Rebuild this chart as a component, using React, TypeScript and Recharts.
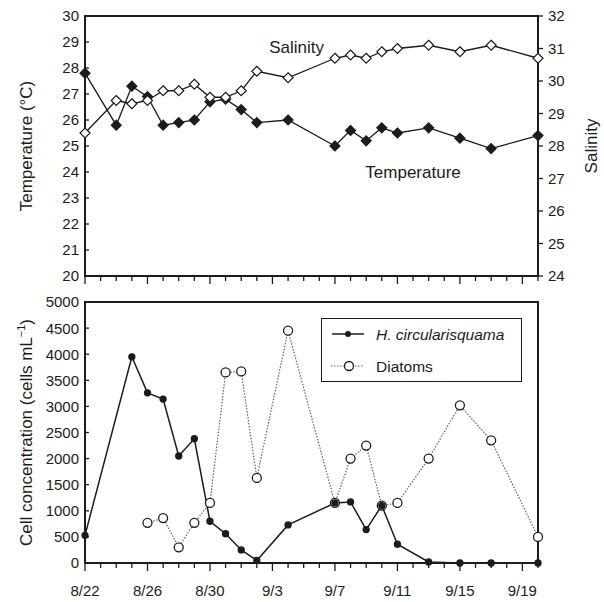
import React from 'react';
import { ComposedChart, Line, XAxis, YAxis, ReferenceDot, ReferenceArea, Legend } from 'recharts';

// ---- data (day 0 = 8/22) ----
const sampleDays = [0, 2, 3, 4, 5, 6, 7, 8, 9, 10, 11, 13, 16, 17, 18, 19, 20, 22, 24, 26, 29];
const temperature = [27.8, 25.8, 27.3, 26.9, 25.8, 25.9, 26.0, 26.7, 26.8, 26.4, 25.9, 26.0, 25.0, 25.6, 25.2, 25.7, 25.5, 25.7, 25.3, 24.9, 25.4];
const salinity = [28.4, 29.4, 29.3, 29.4, 29.7, 29.7, 29.9, 29.5, 29.5, 29.7, 30.3, 30.1, 30.7, 30.8, 30.7, 30.9, 31.0, 31.1, 30.9, 31.1, 30.7];

const hDays = [0, 3, 4, 5, 6, 7, 8, 9, 10, 11, 13, 16, 17, 18, 19, 20, 22, 24, 26, 29];
const hCells = [530, 3950, 3260, 3140, 2050, 2380, 800, 560, 250, 50, 730, 1150, 1170, 640, 1100, 360, 20, 0, 0, 0];
const diatomDays = [4, 5, 6, 7, 8, 9, 10, 11, 13, 16, 17, 18, 19, 20, 22, 24, 26, 29];
const diatomCells = [770, 860, 300, 770, 1150, 3650, 3670, 1630, 4450, 1150, 2000, 2250, 1100, 1150, 2000, 3020, 2350, 500];

const dayTicks = [0, 1, 2, 3, 4, 5, 6, 7, 8, 9, 10, 11, 12, 13, 14, 15, 16, 17, 18, 19, 20, 21, 22, 23, 24, 25, 26, 27, 28, 29];
const majorTickDays = [0, 4, 8, 12, 16, 20, 24, 28];
const majorTickLabels = ['8/22', '8/26', '8/30', '9/3', '9/7', '9/11', '9/15', '9/19'];
const tempTicks = [20, 21, 22, 23, 24, 25, 26, 27, 28, 29, 30];
const salTicks = [24, 25, 26, 27, 28, 29, 30, 31, 32];
const cellTicks = [0, 500, 1000, 1500, 2000, 2500, 3000, 3500, 4000, 4500, 5000];

// annotation anchors (data coordinates)
const salinityNote = { day: 13.55, temp: 28.59, text: 'Salinity' };
const temperatureNote = { day: 21.0, temp: 23.76, text: 'Temperature' };

const topData = sampleDays.map((d, i) => ({ day: d, temperature: temperature[i], salinity: salinity[i] }));
const bottomData = hDays.map((d, i) => {
  const j = diatomDays.indexOf(d);
  return { day: d, h: hCells[i], diatoms: j >= 0 ? diatomCells[j] : null };
});

const FONT = '"Liberation Sans", Arial, Helvetica, sans-serif';
const INK = '#1c1c1c';
const AXIS = { stroke: INK, strokeWidth: 2 };
const CHART_W = 604;
const LEFT_W = 85;
const RIGHT_W = 66;
const PLOT_W = CHART_W - LEFT_W - RIGHT_W;

const makeXTick = (showLabels: boolean) => (props: any) => {
  const { x, y, payload } = props;
  const v = payload.value;
  const k = majorTickDays.indexOf(v);
  const major = k >= 0;
  return (
    <g>
      <line x1={x} x2={x} y1={y} y2={y + (major ? 8 : 5)} stroke={INK} strokeWidth={1.3} />
      {showLabels && major ? (
        <text x={x} y={y + 33} textAnchor="middle" fontSize={15} fontFamily={FONT} fill={INK}>
          {majorTickLabels[k]}
        </text>
      ) : null}
    </g>
  );
};

// left ticks point inward; the tick at the top of the domain also closes the frame
const makeLeftTick = (topValue: number) => (props: any) => {
  const { x, y, payload } = props;
  return (
    <g>
      <line x1={x} x2={x + 4} y1={y} y2={y} stroke={INK} strokeWidth={1.3} />
      {Number(payload.value) === topValue ? <path d={`M${x},${y}H${x + PLOT_W}`} stroke={INK} strokeWidth={2} fill="none" /> : null}
      <text x={x - 6} y={y} dy="0.36em" textAnchor="end" fontSize={15} fontFamily={FONT} fill={INK}>
        {payload.value}
      </text>
    </g>
  );
};

const RightTick = (props: any) => {
  const { x, y, payload } = props;
  return (
    <g>
      <line x1={x} x2={x + 5} y1={y} y2={y} stroke={INK} strokeWidth={1.3} />
      <text x={x + 10} y={y} dy="0.36em" textAnchor="start" fontSize={15} fontFamily={FONT} fill={INK}>
        {payload.value}
      </text>
    </g>
  );
};

const makeDiamond = (fill: string) => (props: any) => {
  const { cx, cy, index } = props;
  if (cx == null || cy == null) return <g key={`d${index}`} />;
  const s = 5;
  return (
    <polygon
      key={`d${index}`}
      points={`${cx},${cy - s} ${cx + s},${cy} ${cx},${cy + s} ${cx - s},${cy}`}
      fill={fill}
      stroke={INK}
      strokeWidth={1.2}
    />
  );
};

const makeCircle = (r: number, fill: string, stroke: string) => (props: any) => {
  const { cx, cy, index, value } = props;
  if (cx == null || cy == null || value == null) return <g key={`c${index}`} />;
  return <circle key={`c${index}`} cx={cx} cy={cy} r={r} fill={fill} stroke={stroke} strokeWidth={1.3} />;
};

const makeTitle = (text: React.ReactNode, dxFromAxis: (vb: any) => number) => (p: any) => {
  const vb = p.viewBox;
  const cx = dxFromAxis(vb);
  const cy = vb.y + vb.height / 2;
  return (
    <text
      x={cx}
      y={cy}
      transform={`rotate(-90 ${cx} ${cy})`}
      textAnchor="middle"
      dominantBaseline="middle"
      fontSize={17}
      fontFamily={FONT}
      fill={INK}
    >
      {text}
    </text>
  );
};

const makeNote = (text: string) => (p: any) => {
  const vb = p.viewBox;
  return (
    <text x={vb.x} y={vb.y} textAnchor="middle" fontSize={17} fontFamily={FONT} fill={INK}>
      {text}
    </text>
  );
};

const LegendBox = () => (
  <div
    style={{
      width: 199,
      height: 62,
      border: `1.5px solid ${INK}`,
      background: '#fff',
      boxSizing: 'content-box',
      fontFamily: FONT,
    }}
  >
    <svg width={199} height={62}>
      <line x1={10} x2={42} y1={15} y2={15} stroke={INK} strokeWidth={1.5} />
      <circle cx={26} cy={15} r={3} fill={INK} />
      <text x={54} y={15} dy="0.36em" fontSize={15.5} fontStyle="italic" fontFamily={FONT} fill={INK}>
        H. circularisquama
      </text>
      <line x1={9} x2={42} y1={47} y2={47} stroke="#666" strokeWidth={1.2} strokeDasharray="1.5 1.5" />
      <circle cx={27} cy={47} r={4.5} fill="#fff" stroke={INK} strokeWidth={1.3} />
      <text x={54} y={47} dy="0.36em" fontSize={15.5} fontFamily={FONT} fill={INK}>
        Diatoms
      </text>
    </svg>
  </div>
);

export default function App() {
  return (
    <div style={{ position: 'absolute', left: 0, top: 0, width: 604, height: 602, background: '#fff' }}>
      <div style={{ position: 'absolute', left: 0, top: 0, width: 604, height: 290 }}>
        <ComposedChart width={CHART_W} height={290} data={topData} margin={{ top: 16, right: 0, bottom: 0, left: 0 }}>
          <XAxis
            dataKey="day"
            type="number"
            domain={[0, 29]}
            ticks={dayTicks}
            interval={0}
            tickLine={false}
            tickSize={0}
            tickMargin={0}
            tick={makeXTick(false)}
            height={14}
            axisLine={AXIS}
          />
          <YAxis
            yAxisId="t"
            type="number"
            domain={[20, 30]}
            ticks={tempTicks}
            interval={0}
            width={LEFT_W}
            tickLine={false}
            tickSize={0}
            tickMargin={0}
            tick={makeLeftTick(30)}
            axisLine={AXIS}
            label={{ content: makeTitle('Temperature (°C)', (vb) => vb.x + 28) }}
          />
          <YAxis
            yAxisId="s"
            orientation="right"
            type="number"
            domain={[24, 32]}
            ticks={salTicks}
            interval={0}
            width={RIGHT_W}
            tickLine={false}
            tickSize={0}
            tickMargin={0}
            tick={RightTick}
            axisLine={AXIS}
            label={{ content: makeTitle('Salinity', (vb) => vb.x + 55) }}
          />
          <ReferenceArea yAxisId="t" x1={0} x2={29} y1={20} y2={30} fill="none" stroke={INK} strokeWidth={2} ifOverflow="visible" />
          <Line yAxisId="t" dataKey="temperature" stroke={INK} strokeWidth={1.3} dot={makeDiamond(INK)} isAnimationActive={false} />
          <Line yAxisId="s" dataKey="salinity" stroke={INK} strokeWidth={1.3} dot={makeDiamond('#fff')} isAnimationActive={false} />
          <ReferenceDot yAxisId="t" x={salinityNote.day} y={salinityNote.temp} r={0} fill="none" stroke="none" label={{ content: makeNote(salinityNote.text) }} />
          <ReferenceDot yAxisId="t" x={temperatureNote.day} y={temperatureNote.temp} r={0} fill="none" stroke="none" label={{ content: makeNote(temperatureNote.text) }} />
        </ComposedChart>
      </div>
      <div style={{ position: 'absolute', left: 0, top: 290, width: 604, height: 312 }}>
        <ComposedChart width={CHART_W} height={312} data={bottomData} margin={{ top: 12, right: 0, bottom: 9, left: 0 }}>
          <XAxis
            dataKey="day"
            type="number"
            domain={[0, 29]}
            ticks={dayTicks}
            interval={0}
            tickLine={false}
            tickSize={0}
            tickMargin={0}
            tick={makeXTick(true)}
            height={30}
            axisLine={AXIS}
          />
          <YAxis
            yAxisId="c"
            type="number"
            domain={[0, 5000]}
            ticks={cellTicks}
            interval={0}
            width={LEFT_W}
            tickLine={false}
            tickSize={0}
            tickMargin={0}
            tick={makeLeftTick(5000)}
            axisLine={AXIS}
            label={{
              content: makeTitle(
                <>
                  Cell concentration (cells mL
                  <tspan dy={-6} fontSize={11}>−1</tspan>
                  <tspan dy={6}>)</tspan>
                </>,
                (vb) => vb.x + 28
              ),
            }}
          />
          <YAxis yAxisId="frame" orientation="right" type="number" domain={[0, 1]} width={RIGHT_W} tick={false} tickLine={false} axisLine={AXIS} />
          <ReferenceArea yAxisId="c" x1={0} x2={29} y1={0} y2={5000} fill="none" stroke={INK} strokeWidth={2} ifOverflow="visible" />
          <Legend
            layout="horizontal"
            verticalAlign="middle"
            align="center"
            content={() => <LegendBox />}
            wrapperStyle={{ position: 'absolute', left: 321, top: 28, width: 202, height: 65 }}
          />
          <Line
            yAxisId="c"
            dataKey="diatoms"
            stroke="#666"
            strokeWidth={1.2}
            strokeDasharray="1.5 1.5"
            dot={makeCircle(4.5, '#fff', INK)}
            isAnimationActive={false}
          />
          <Line yAxisId="c" dataKey="h" stroke={INK} strokeWidth={1.5} dot={makeCircle(3, INK, INK)} isAnimationActive={false} />
        </ComposedChart>
      </div>
    </div>
  );
}
